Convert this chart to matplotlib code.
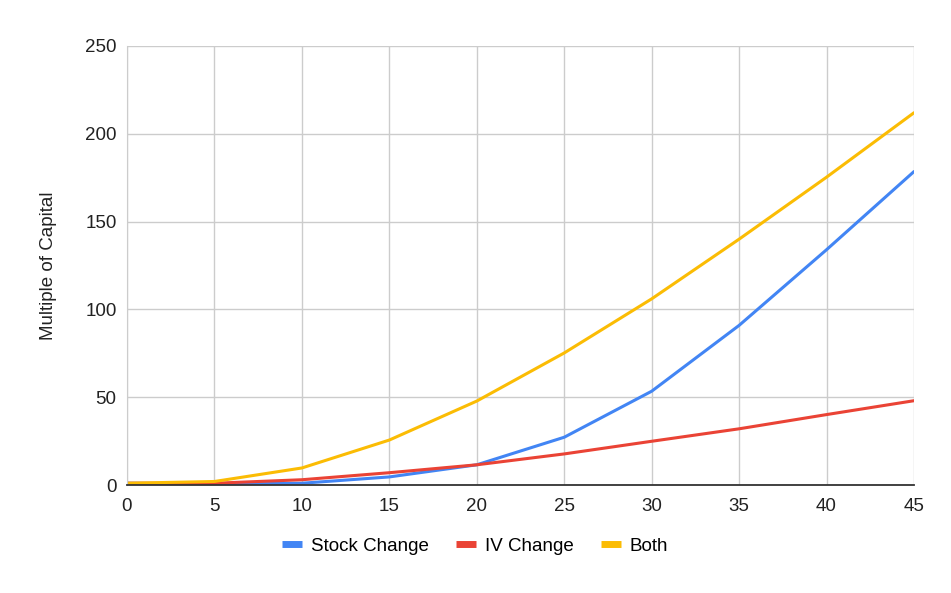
import matplotlib
matplotlib.use("Agg")
import matplotlib.pyplot as plt

x = [0, 5, 10, 15, 20, 25, 30, 35, 40, 45]
stock_change = [1, 0.5, 1, 4.6, 11.5, 27.2, 53.4, 90.9, 134, 178.5]
iv_change = [1, 1, 3, 7, 11.5, 17.7, 24.9, 32, 40.1, 48]
both = [1, 2, 9.7, 25.6, 47.8, 75.2, 106, 140, 175.3, 212]

series = [("Stock Change", stock_change, "#4285F4"),
          ("IV Change", iv_change, "#EA4335"),
          ("Both", both, "#FBBC04")]

plt.rcParams['font.family'] = ['Liberation Sans', 'DejaVu Sans']
FS = 13.5

fig = plt.figure(figsize=(9.51, 5.93), dpi=100)
ax = fig.add_axes([127/951, 1-485/593, (914-127)/951, (485-46)/593])

for name, vals, col in series:
    ax.plot(x, vals, color=col, lw=2.2, label=name, solid_capstyle='round')

ax.set_xlim(0, 45)
ax.set_ylim(0, 250)
ax.set_xticks(range(0, 46, 5))
ax.set_yticks(range(0, 251, 50))
ax.grid(True, color="#cccccc", lw=1)
ax.set_axisbelow(True)
for s in ["top", "right"]:
    ax.spines[s].set_visible(False)
ax.spines["left"].set_color("#cccccc")
ax.spines["bottom"].set_color("#333333")
ax.spines["bottom"].set_linewidth(1.3)
ax.tick_params(axis='y', length=0, labelsize=FS, colors="#222222", pad=7.5)
ax.tick_params(axis='x', length=0, labelsize=FS, colors="#222222", pad=9.5)
ax.set_ylabel("Multiple of Capital", fontsize=FS, color="#222222", labelpad=20)

leg = fig.legend(loc="center", bbox_to_anchor=(475/951, 1-546/593), ncol=3,
                 frameon=False, fontsize=FS, handlelength=1.1, handletextpad=0.45,
                 columnspacing=1.45)
for h in leg.get_lines():
    h.set_linewidth(5)
    h.set_solid_capstyle('butt')

fig.savefig("out.png", dpi=100)
